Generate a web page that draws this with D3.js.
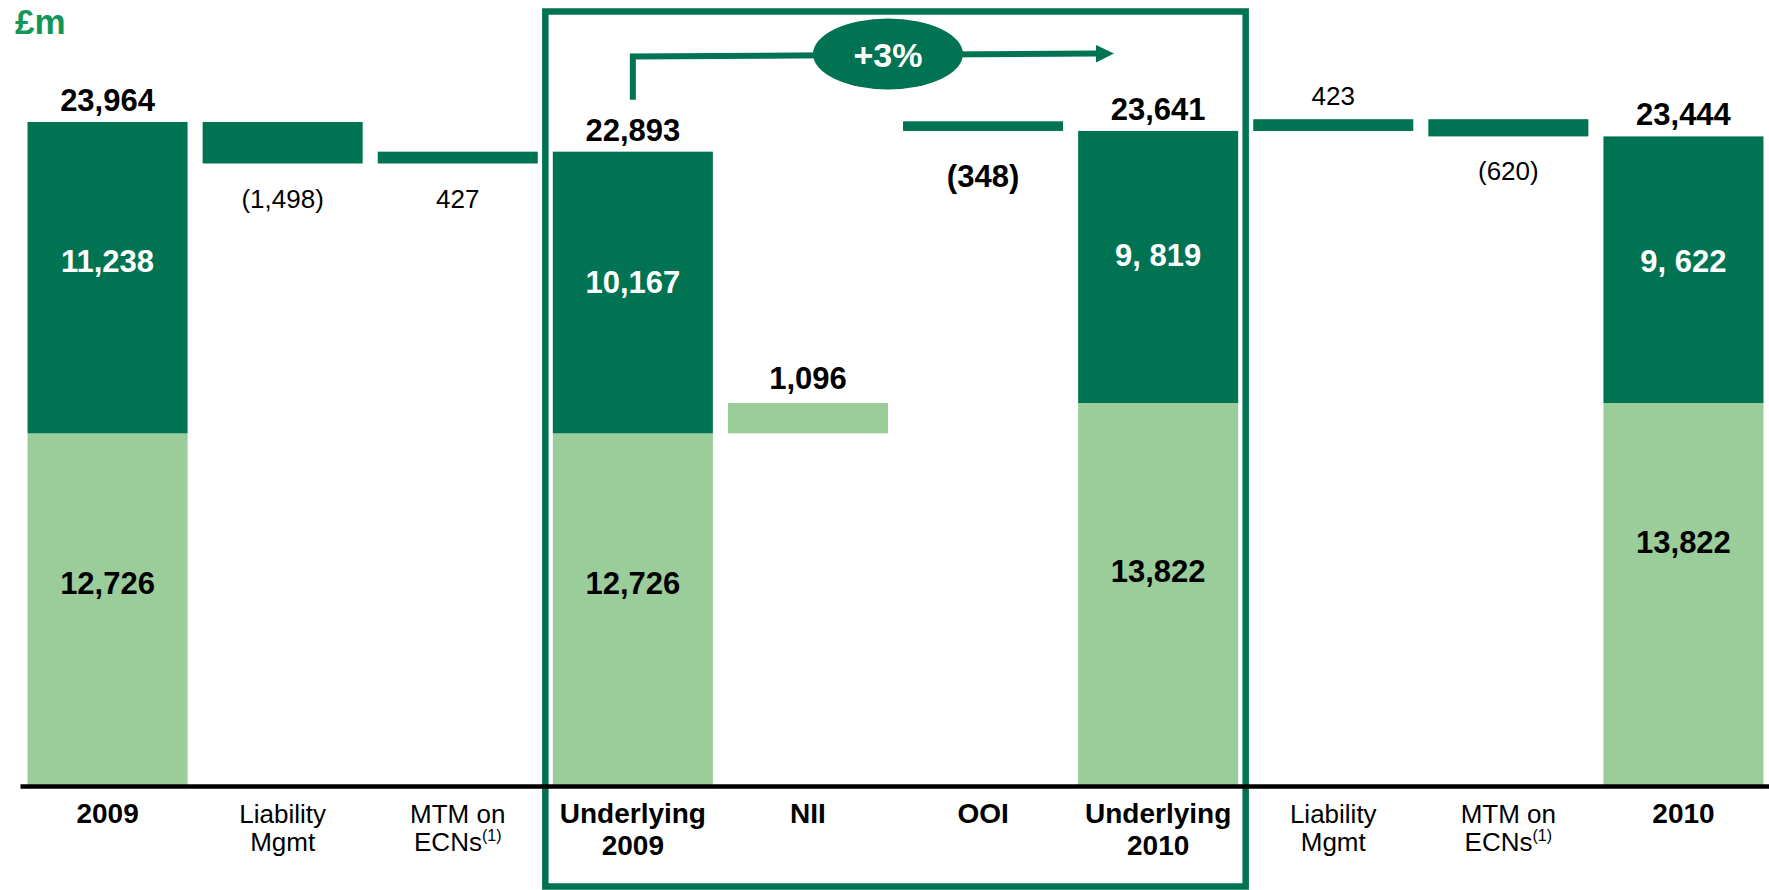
<!DOCTYPE html>
<html>
<head>
<meta charset="utf-8">
<script src="https://cdn.jsdelivr.net/npm/d3@7"></script>
<style>
  html, body { margin: 0; padding: 0; background: #fff; }
  svg { display: block; font-family: "Liberation Sans", Arial, sans-serif; }
</style>
</head>
<body>
<div id="chart"></div>
<script>
// columns of the bridge, left to right
const tickLines = [
    ['2009'], ['Liability', 'Mgmt'], ['MTM on', 'ECNs'], ['Underlying', '2009'], ['NII'],
    ['OOI'], ['Underlying', '2010'], ['Liability', 'Mgmt'], ['MTM on', 'ECNs'], ['2010']
];
const tickNotes = [null, null, '(1)', null, null, null, null, null, '(1)', null];
const boldTicks = [true, false, false, true, true, true, true, false, false, true];

// totals are split in two parts, the steps are deltas
const lowerValues = [12726, null, null, 12726, null, null, 13822, null, null, 13822];
const upperValues = [11238, null, null, 10167, null, null, 9819, null, null, 9622];
const upperText = ['11,238', null, null, '10,167', null, null, '9, 819', null, null, '9, 622'];
const deltaValues = [null, -1498, 427, null, 1096, -348, null, 423, -620, null];
const deltaSegment = [null, 'total', 'total', null, 'lower', 'total', null, 'total', 'total', null];

// label placement (layout only)
const deltaSide = [null, 'below', 'below', null, 'above', 'below', null, 'above', 'below', null];
const boldDelta = [false, false, false, false, true, true, false, false, false, false];
const darkDy = [-6, 0, 0, 0, 0, 0, -1, 0, 0, 2];
const lightDy = [-16, 0, 0, -16, 0, 0, -13, 0, 0, -42];

const width = 1769;
const height = 890;
const dark = '#007352';
const light = '#9bcd9a';

const fmt = d3.format(',');

// running levels for the waterfall
let steps = [];
let lower = 0, total = 0;
tickLines.forEach((_, i) => {
    if (lowerValues[i] != null) {
        lower = lowerValues[i];
        total = lower + upperValues[i];
        steps.push({ i, type: 'total', lower, total });
    } else {
        const d = deltaValues[i];
        let from, to;
        if (deltaSegment[i] === 'lower') {
            from = lower; to = lower + d;
            lower += d; total += d;
        } else {
            from = total; to = total + d;
            total += d;
        }
        steps.push({ i, type: 'delta', from, to, delta: d, seg: deltaSegment[i] });
    }
});

const x = d3.scaleBand()
    .domain(d3.range(tickLines.length))
    .range([20, 1771])
    .paddingInner(0.086)
    .paddingOuter(0.043);

const y = d3.scaleLinear()
    .domain([0, 24000])
    .range([786, 121]);

const svg = d3.select('#chart')
    .append('svg')
    .attr('width', width)
    .attr('height', height);

// highlight box round the underlying columns
svg.append('rect')
    .attr('x', x(3) - 7.5)
    .attr('y', 11.5)
    .attr('width', x(6) + x.bandwidth() + 7.5 - (x(3) - 7.5))
    .attr('height', 886.5 - 11.5)
    .attr('fill', 'none')
    .attr('stroke', dark)
    .attr('stroke-width', 6.5);

// unit
svg.append('text')
    .attr('x', 15)
    .attr('y', 34)
    .attr('font-size', 35)
    .attr('font-weight', 'bold')
    .attr('fill', '#12975a')
    .text('£m');

const totals = steps.filter(d => d.type === 'total');
const deltas = steps.filter(d => d.type === 'delta');

// stacked totals
svg.append('g').selectAll('rect')
    .data(totals)
    .join('rect')
    .attr('x', d => x(d.i))
    .attr('width', x.bandwidth())
    .attr('y', d => y(d.lower))
    .attr('height', d => y(0) - y(d.lower))
    .attr('fill', light);

svg.append('g').selectAll('rect')
    .data(totals)
    .join('rect')
    .attr('x', d => x(d.i))
    .attr('width', x.bandwidth())
    .attr('y', d => y(d.total))
    .attr('height', d => y(d.lower) - y(d.total))
    .attr('fill', dark);

// floating steps
svg.append('g').selectAll('rect')
    .data(deltas)
    .join('rect')
    .attr('x', d => x(d.i))
    .attr('width', x.bandwidth())
    .attr('y', d => y(Math.max(d.from, d.to)))
    .attr('height', d => Math.abs(y(d.from) - y(d.to)))
    .attr('fill', d => d.seg === 'lower' ? light : dark);

const labels = svg.append('g').attr('text-anchor', 'middle');

// total values above the bars
labels.selectAll('.total-label')
    .data(totals)
    .join('text')
    .attr('class', 'total-label')
    .attr('x', d => x(d.i) + x.bandwidth() / 2)
    .attr('y', d => y(d.total) - 11)
    .attr('font-size', 31)
    .attr('font-weight', 'bold')
    .text(d => fmt(d.total));

// split values inside the bars
labels.selectAll('.upper-label')
    .data(totals)
    .join('text')
    .attr('class', 'upper-label')
    .attr('x', d => x(d.i) + x.bandwidth() / 2)
    .attr('y', d => (y(d.total) + y(d.lower)) / 2 + darkDy[d.i])
    .attr('font-size', 31)
    .attr('font-weight', 'bold')
    .attr('fill', '#fff')
    .text(d => upperText[d.i]);

labels.selectAll('.lower-label')
    .data(totals)
    .join('text')
    .attr('class', 'lower-label')
    .attr('x', d => x(d.i) + x.bandwidth() / 2)
    .attr('y', d => (y(d.lower) + y(0)) / 2 + lightDy[d.i])
    .attr('font-size', 31)
    .attr('font-weight', 'bold')
    .text(d => fmt(d.lower));

// step values
labels.selectAll('.delta-label')
    .data(deltas)
    .join('text')
    .attr('class', 'delta-label')
    .attr('x', d => x(d.i) + x.bandwidth() / 2)
    .attr('y', d => {
        const top = y(Math.max(d.from, d.to));
        const bottom = y(Math.min(d.from, d.to));
        if (deltaSide[d.i] === 'above') return top - 14;
        return bottom + (boldDelta[d.i] ? 56 : 44);
    })
    .attr('font-size', d => boldDelta[d.i] ? 31 : 26)
    .attr('font-weight', d => boldDelta[d.i] ? 'bold' : 'normal')
    .text(d => d.delta < 0 ? `(${fmt(-d.delta)})` : fmt(d.delta));

// growth arrow between the two underlying totals
const growth = d3.format('+.0%')(totals[2].total / totals[1].total - 1);
const startX = x(3) + x.bandwidth() / 2;
svg.append('path')
    .attr('d', `M${startX},${y(totals[1].total) - 52} V56.5 L1097,53.5`)
    .attr('fill', 'none')
    .attr('stroke', dark)
    .attr('stroke-width', 6);

svg.append('path')
    .attr('d', 'M1096,45 L1114,53.5 L1096,62.5 Z')
    .attr('fill', dark);

svg.append('ellipse')
    .attr('cx', 888)
    .attr('cy', 54)
    .attr('rx', 75)
    .attr('ry', 35.5)
    .attr('fill', dark);

svg.append('text')
    .attr('x', 888)
    .attr('y', 67)
    .attr('text-anchor', 'middle')
    .attr('font-size', 34)
    .attr('font-weight', 'bold')
    .attr('fill', '#fff')
    .text(growth);

// category axis
const axis = svg.append('g')
    .attr('transform', `translate(0, ${y(0)})`)
    .call(d3.axisBottom(x).tickSize(0).tickSizeOuter(0).tickFormat(''));

axis.select('.domain')
    .attr('stroke', '#000')
    .attr('stroke-width', 4.5);

// one text per line so the two lines stay apart
axis.selectAll('.tick').each(function(i) {
    const g = d3.select(this);
    const bold = boldTicks[i];
    tickLines[i].forEach((line, k) => {
        const t = g.append('text')
            .attr('fill', '#000')
            .attr('text-anchor', 'middle')
            .attr('font-size', bold ? 28 : 26)
            .attr('font-weight', bold ? 'bold' : 'normal')
            .attr('x', 0)
            .attr('y', 37 + k * (bold ? 31.5 : 28));
        t.append('tspan').text(line);
        if (tickNotes[i] && k === tickLines[i].length - 1) {
            t.append('tspan')
                .attr('font-size', 16)
                .attr('dy', -10)
                .text(tickNotes[i]);
        }
    });
});
</script>
</body>
</html>
